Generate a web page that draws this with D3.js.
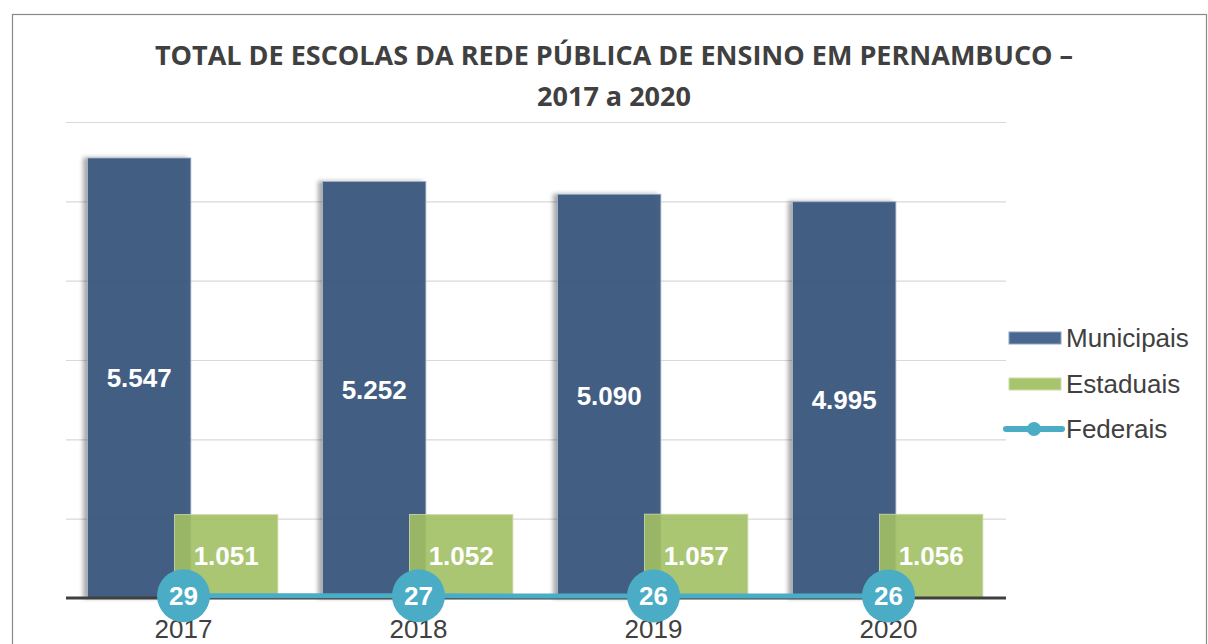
<!DOCTYPE html>
<html>
<head>
<meta charset="utf-8">
<script src="https://cdn.jsdelivr.net/npm/d3@7"></script>
<style>
  body { margin: 0; background: #fff; }
  svg { display: block; }
</style>
</head>
<body>
<svg id="chart" width="1208" height="644"></svg>
<script>
var years = ["2017", "2018", "2019", "2020"];
var municipais = [5547, 5252, 5090, 4995];
var estaduais = [1051, 1052, 1057, 1056];
var federais = [29, 27, 26, 26];
var yTicks = [0, 1000, 2000, 3000, 4000, 5000, 6000];
var seriesNames = ["Municipais", "Estaduais", "Federais"];

var fmt = function(v) { return d3.format(",")(v).replace(/,/g, "."); };

var svg = d3.select("#chart");
var plotL = 66, plotR = 1006, plotT = 122, plotB = 598;

var defs = svg.append("defs");
var f = defs.append("filter").attr("id", "shadow").attr("x", "-20%").attr("width", "140%");
f.append("feDropShadow").attr("dx", -4).attr("dy", 0).attr("stdDeviation", 2)
  .attr("flood-color", "#000").attr("flood-opacity", 0.35);

// outer border
svg.append("rect").attr("x", 12.5).attr("y", 14.5).attr("width", 1194).attr("height", 640)
  .attr("fill", "none").attr("stroke", "#888").attr("stroke-width", 1.2);

// title
var title = svg.append("text").attr("text-anchor", "middle")
  .attr("font-family", "'Open Sans', sans-serif").attr("font-weight", "bold")
  .attr("font-size", 27).attr("fill", "#404040");
title.append("tspan").attr("x", 614).attr("y", 65).text("TOTAL DE ESCOLAS DA REDE PÚBLICA DE ENSINO EM PERNAMBUCO –");
title.append("tspan").attr("x", 614).attr("y", 106).text("2017 a 2020");

var x = d3.scaleBand().domain(years).range([plotL, plotR]);
var y = d3.scaleLinear().domain([0, 6000]).range([plotB, plotT]);
var bw = x.bandwidth() * 0.44;

// gridlines
svg.append("g").selectAll("line").data(yTicks.slice(1)).enter().append("line")
  .attr("x1", plotL).attr("x2", plotR)
  .attr("y1", function(d) { return y(d) + 0.5; }).attr("y2", function(d) { return y(d) + 0.5; })
  .attr("stroke", "#d9d9d9").attr("stroke-width", 1.2);

var cx = function(d) { return x(d) + x.bandwidth() / 2; };

// municipais
svg.append("g").selectAll("rect").data(years).enter().append("rect")
  .attr("x", function(d) { return cx(d) - 96; })
  .attr("y", function(d, i) { return y(municipais[i]); })
  .attr("width", bw)
  .attr("height", function(d, i) { return y(0) - y(municipais[i]); })
  .attr("fill", "#3d5a7f").attr("fill-opacity", 0.95)
  .attr("stroke", "#a9b8cc").attr("stroke-width", 0.8)
  .attr("filter", "url(#shadow)");

// estaduais
svg.append("g").selectAll("rect").data(years).enter().append("rect")
  .attr("x", function(d) { return cx(d) - 9; })
  .attr("y", function(d, i) { return y(estaduais[i]); })
  .attr("width", bw)
  .attr("height", function(d, i) { return y(0) - y(estaduais[i]); })
  .attr("fill", "#a2c063").attr("fill-opacity", 0.9)
  .attr("stroke", "#cfdcae").attr("stroke-width", 0.8);

// baseline
svg.append("line").attr("x1", plotL).attr("x2", plotR).attr("y1", plotB).attr("y2", plotB)
  .attr("stroke", "#404040").attr("stroke-width", 3);

// x axis labels (drawn before markers, circles sit over them a bit)
var xAxis = svg.append("g").attr("transform", "translate(0," + (plotB + 22) + ")")
  .call(d3.axisBottom(x).tickSize(0).tickPadding(0));
xAxis.select(".domain").remove();
xAxis.selectAll("text").attr("font-family", "'Liberation Sans', Arial, sans-serif")
  .attr("font-size", 26).attr("fill", "#404040").attr("dy", "0.71em");

// bar labels
svg.append("g").selectAll("text").data(years).enter().append("text")
  .attr("x", function(d) { return cx(d) - 96 + bw / 2; })
  .attr("y", function(d, i) { return (y(municipais[i]) + y(0)) / 2 + 9; })
  .attr("text-anchor", "middle").attr("font-family", "'Liberation Sans', Arial, sans-serif")
  .attr("font-weight", "bold").attr("font-size", 26).attr("fill", "#fff")
  .text(function(d, i) { return fmt(municipais[i]); });

svg.append("g").selectAll("text").data(years).enter().append("text")
  .attr("x", function(d) { return cx(d) - 9 + bw / 2; })
  .attr("y", function(d, i) { return (y(estaduais[i]) + y(0)) / 2 + 9; })
  .attr("text-anchor", "middle").attr("font-family", "'Liberation Sans', Arial, sans-serif")
  .attr("font-weight", "bold").attr("font-size", 26).attr("fill", "#fff")
  .text(function(d, i) { return fmt(estaduais[i]); });

// federais line
var line = d3.line().x(function(d, i) { return cx(years[i]); }).y(function(d) { return y(d); });
svg.append("path").datum(federais).attr("d", line)
  .attr("fill", "none").attr("stroke", "#4bacc6").attr("stroke-width", 5);
svg.append("g").selectAll("circle").data(federais).enter().append("circle")
  .attr("cx", function(d, i) { return cx(years[i]); })
  .attr("cy", function(d) { return y(d); })
  .attr("r", 26.5).attr("fill", "#4bacc6");
svg.append("g").selectAll("text").data(federais).enter().append("text")
  .attr("x", function(d, i) { return cx(years[i]); })
  .attr("y", function(d) { return y(d) + 9; })
  .attr("text-anchor", "middle").attr("font-family", "'Liberation Sans', Arial, sans-serif")
  .attr("font-weight", "bold").attr("font-size", 26).attr("fill", "#fff")
  .text(function(d) { return d; });

// legend
var lg = svg.append("g").attr("font-family", "'Liberation Sans', Arial, sans-serif")
  .attr("font-size", 26).attr("fill", "#404040");
var ly = [338, 384, 429];
lg.append("rect").attr("x", 1009).attr("y", ly[0] - 6).attr("width", 52).attr("height", 12)
  .attr("fill", "#4a6790").attr("stroke", "#8ea2bf");
lg.append("rect").attr("x", 1009).attr("y", ly[1] - 6).attr("width", 52).attr("height", 12)
  .attr("fill", "#a9c46e").attr("stroke", "#cddca9");
lg.append("line").attr("x1", 1006).attr("x2", 1062).attr("y1", ly[2]).attr("y2", ly[2])
  .attr("stroke", "#4bacc6").attr("stroke-width", 6).attr("stroke-linecap", "round");
lg.append("circle").attr("cx", 1034).attr("cy", ly[2]).attr("r", 7).attr("fill", "#4bacc6");
lg.selectAll("text").data(seriesNames).enter().append("text")
  .attr("x", 1066).attr("y", function(d, i) { return ly[i] + 9; })
  .text(function(d) { return d; });
</script>
</body>
</html>
